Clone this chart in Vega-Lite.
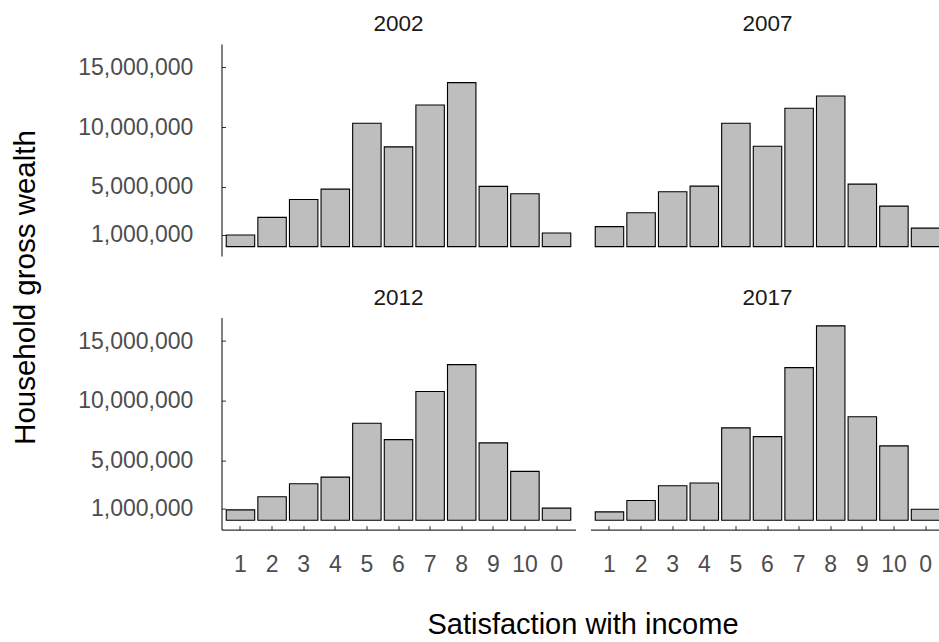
{
  "$schema": "https://vega.github.io/schema/vega-lite/v6.json",
  "padding": {"left": 9.5, "top": 12, "right": 0, "bottom": 0},
  "config": {
    "font": "Liberation Sans",
    "view": {"stroke": null},
    "axis": {"grid": false},
    "title": {"fontSize": 22.5, "fontWeight": "normal", "color": "#1a1a1a", "baseline": "alphabetic", "offset": 8.6, "anchor": "middle"}
  },
  "data": {"values": [
    {"year": 2002, "sat": "1", "wealth": 970000},
    {"year": 2002, "sat": "2", "wealth": 2450000},
    {"year": 2002, "sat": "3", "wealth": 3950000},
    {"year": 2002, "sat": "4", "wealth": 4810000},
    {"year": 2002, "sat": "5", "wealth": 10330000},
    {"year": 2002, "sat": "6", "wealth": 8350000},
    {"year": 2002, "sat": "7", "wealth": 11860000},
    {"year": 2002, "sat": "8", "wealth": 13730000},
    {"year": 2002, "sat": "9", "wealth": 5040000},
    {"year": 2002, "sat": "10", "wealth": 4430000},
    {"year": 2002, "sat": "0", "wealth": 1140000},
    {"year": 2007, "sat": "1", "wealth": 1670000},
    {"year": 2007, "sat": "2", "wealth": 2840000},
    {"year": 2007, "sat": "3", "wealth": 4590000},
    {"year": 2007, "sat": "4", "wealth": 5060000},
    {"year": 2007, "sat": "5", "wealth": 10330000},
    {"year": 2007, "sat": "6", "wealth": 8400000},
    {"year": 2007, "sat": "7", "wealth": 11580000},
    {"year": 2007, "sat": "8", "wealth": 12610000},
    {"year": 2007, "sat": "9", "wealth": 5230000},
    {"year": 2007, "sat": "10", "wealth": 3390000},
    {"year": 2007, "sat": "0", "wealth": 1550000},
    {"year": 2012, "sat": "1", "wealth": 870000},
    {"year": 2012, "sat": "2", "wealth": 1960000},
    {"year": 2012, "sat": "3", "wealth": 3050000},
    {"year": 2012, "sat": "4", "wealth": 3610000},
    {"year": 2012, "sat": "5", "wealth": 8120000},
    {"year": 2012, "sat": "6", "wealth": 6750000},
    {"year": 2012, "sat": "7", "wealth": 10780000},
    {"year": 2012, "sat": "8", "wealth": 13020000},
    {"year": 2012, "sat": "9", "wealth": 6470000},
    {"year": 2012, "sat": "10", "wealth": 4090000},
    {"year": 2012, "sat": "0", "wealth": 1010000},
    {"year": 2017, "sat": "1", "wealth": 700000},
    {"year": 2017, "sat": "2", "wealth": 1650000},
    {"year": 2017, "sat": "3", "wealth": 2890000},
    {"year": 2017, "sat": "4", "wealth": 3110000},
    {"year": 2017, "sat": "5", "wealth": 7730000},
    {"year": 2017, "sat": "6", "wealth": 7000000},
    {"year": 2017, "sat": "7", "wealth": 12770000},
    {"year": 2017, "sat": "8", "wealth": 16270000},
    {"year": 2017, "sat": "9", "wealth": 8660000},
    {"year": 2017, "sat": "10", "wealth": 6220000},
    {"year": 2017, "sat": "0", "wealth": 920000}
  ]},
  "columns": 2,
  "bounds": "flush",
  "spacing": {"row": 61.6, "column": 15},
  "concat": [
    {
      "title": "2002",
      "width": 354, "height": 212,
      "transform": [{"filter": "datum.year == 2002"}],
      "mark": {"type": "bar", "fill": "#bebebe", "stroke": "#000000", "strokeWidth": 1.1},
      "encoding": {
        "x": {"field": "sat", "type": "nominal", "sort": ["1","2","3","4","5","6","7","8","9","10","0"], "scale": {"paddingInner": 0.1, "paddingOuter": 0.15}, "axis": null},
        "y": {"field": "wealth", "type": "quantitative", "scale": {"domain": [-785000, 16960000], "nice": false, "zero": false},
          "axis": {"values": [1000000, 5000000, 10000000, 15000000], "format": ",.0f", "labelFontSize": 23, "labelColor": "#4d4d4d", "tickSize": -4, "tickColor": "#333333", "domainColor": "#000000", "labelPadding": 32.7,
            "title": "Household gross wealth", "titleFontSize": 29.5, "titleFontWeight": "normal", "titleColor": "#000000", "titleX": -196, "titleY": 243, "titleAngle": -90, "titleAlign": "center", "titleBaseline": "middle"}},
        "y2": {"datum": 0}
      }
    },
    {
      "title": "2007",
      "width": 354, "height": 212,
      "transform": [{"filter": "datum.year == 2007"}],
      "mark": {"type": "bar", "fill": "#bebebe", "stroke": "#000000", "strokeWidth": 1.1},
      "encoding": {
        "x": {"field": "sat", "type": "nominal", "sort": ["1","2","3","4","5","6","7","8","9","10","0"], "scale": {"paddingInner": 0.1, "paddingOuter": 0.15}, "axis": null},
        "y": {"field": "wealth", "type": "quantitative", "scale": {"domain": [-785000, 16960000], "nice": false, "zero": false}, "axis": null},
        "y2": {"datum": 0}
      }
    },
    {
      "title": "2012",
      "width": 354, "height": 212,
      "transform": [{"filter": "datum.year == 2012"}],
      "mark": {"type": "bar", "fill": "#bebebe", "stroke": "#000000", "strokeWidth": 1.1},
      "encoding": {
        "x": {"field": "sat", "type": "nominal", "sort": ["1","2","3","4","5","6","7","8","9","10","0"], "scale": {"paddingInner": 0.1, "paddingOuter": 0.15},
          "axis": {"labelFontSize": 23, "labelColor": "#4d4d4d", "labelAngle": 0, "tickSize": -4, "tickColor": "#333333", "domainColor": "#000000", "labelPadding": 28,
            "title": "Satisfaction with income", "titleFontSize": 29, "titleFontWeight": "normal", "titleColor": "#000000", "titleX": 361, "titleY": 104, "titleAlign": "center", "titleBaseline": "alphabetic"}},
        "y": {"field": "wealth", "type": "quantitative", "scale": {"domain": [-785000, 16960000], "nice": false, "zero": false},
          "axis": {"values": [1000000, 5000000, 10000000, 15000000], "format": ",.0f", "labelFontSize": 23, "labelColor": "#4d4d4d", "tickSize": -4, "tickColor": "#333333", "domainColor": "#000000", "labelPadding": 32.7, "title": null}},
        "y2": {"datum": 0}
      }
    },
    {
      "title": "2017",
      "width": 354, "height": 212,
      "transform": [{"filter": "datum.year == 2017"}],
      "mark": {"type": "bar", "fill": "#bebebe", "stroke": "#000000", "strokeWidth": 1.1},
      "encoding": {
        "x": {"field": "sat", "type": "nominal", "sort": ["1","2","3","4","5","6","7","8","9","10","0"], "scale": {"paddingInner": 0.1, "paddingOuter": 0.15},
          "axis": {"labelFontSize": 23, "labelColor": "#4d4d4d", "labelAngle": 0, "tickSize": -4, "tickColor": "#333333", "domainColor": "#000000", "labelPadding": 28, "title": null}},
        "y": {"field": "wealth", "type": "quantitative", "scale": {"domain": [-785000, 16960000], "nice": false, "zero": false}, "axis": null},
        "y2": {"datum": 0}
      }
    }
  ]
}
